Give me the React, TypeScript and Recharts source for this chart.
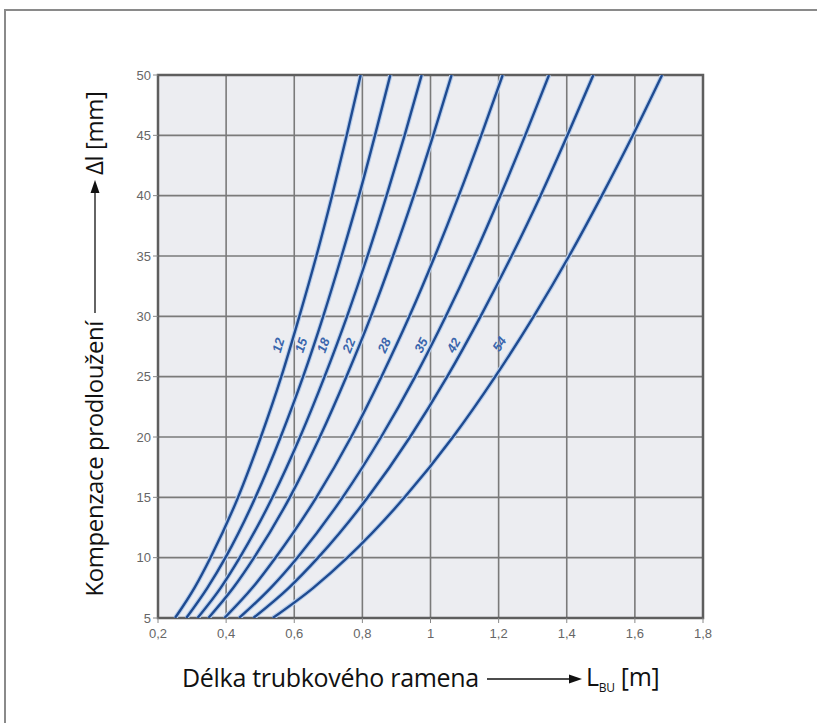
import React from 'react';
import { LineChart, Line, XAxis, YAxis, CartesianGrid, ReferenceArea, ReferenceDot } from 'recharts';

// Δl levels [mm] at which the curve positions L_BU [m] were read
const yLevels = [5, 7.5, 10, 15, 20, 25, 30, 35, 40, 45, 50];

const xTicks = [0.2, 0.4, 0.6, 0.8, 1.0, 1.2, 1.4, 1.6, 1.8];
const yTicks = [5, 10, 15, 20, 25, 30, 35, 40, 45, 50];

const diameters = ['12', '15', '18', '22', '28', '35', '42', '54'];

const x12 = [0.250, 0.307, 0.354, 0.435, 0.502, 0.562, 0.615, 0.665, 0.711, 0.754, 0.795];
const x15 = [0.283, 0.345, 0.398, 0.486, 0.560, 0.626, 0.685, 0.739, 0.790, 0.837, 0.882];
const x18 = [0.316, 0.384, 0.440, 0.536, 0.617, 0.689, 0.755, 0.815, 0.871, 0.924, 0.974];
const x22 = [0.348, 0.421, 0.482, 0.587, 0.675, 0.753, 0.825, 0.890, 0.951, 1.008, 1.062];
const x28 = [0.395, 0.477, 0.545, 0.665, 0.767, 0.856, 0.938, 1.013, 1.083, 1.149, 1.212];
const x35 = [0.438, 0.531, 0.609, 0.742, 0.855, 0.955, 1.045, 1.128, 1.205, 1.278, 1.348];
const x42 = [0.480, 0.584, 0.670, 0.816, 0.940, 1.049, 1.147, 1.238, 1.323, 1.402, 1.478];
const x54 = [0.537, 0.656, 0.756, 0.924, 1.066, 1.190, 1.303, 1.407, 1.503, 1.594, 1.680];

// curve labels (diameter) positions
const labelX = [0.553, 0.620, 0.685, 0.760, 0.864, 0.972, 1.068, 1.202];
const labelY = [27.6, 27.6, 27.6, 27.6, 27.6, 27.6, 27.6, 27.7];
const labelAngle = [-73, -71, -70, -68, -65, -63, -61, -57];

const curves = [x12, x15, x18, x22, x28, x35, x42, x54].map((xs) =>
  xs.map((x, i) => ({ x, y: yLevels[i] }))
);

const fmt = (v: number) => String(v).replace('.', ',');

const titleFont = '"Open Sans", "Noto Sans", sans-serif';
const tickStyle = { fill: '#666', fontSize: 13, fontFamily: '"Liberation Sans", Arial, sans-serif' };

export default function App() {
  return (
    <div style={{ position: 'fixed', left: 0, top: 0, width: 817, height: 723, background: '#fff', overflow: 'hidden' }}>
      <div
        style={{
          position: 'absolute',
          left: 4,
          top: 9,
          width: 900,
          height: 800,
          borderTop: '2px solid #8a8a8a',
          borderLeft: '2px solid #8a8a8a',
        }}
      />
      <div style={{ position: 'absolute', left: 0, top: 0 }}>
        <LineChart width={817} height={723} margin={{ top: 75, right: 114, bottom: 75, left: 118 }}>
          <CartesianGrid fill="#ecedf1" stroke="#7a7a7a" strokeWidth={1.6} />
          <XAxis
            type="number"
            dataKey="x"
            domain={[0.2, 1.8]}
            ticks={xTicks}
            tickFormatter={fmt}
            tick={tickStyle}
            tickLine={{ stroke: '#888' }}
            tickSize={5}
            tickMargin={6}
            axisLine={false}
            height={30}
            allowDataOverflow
          />
          <YAxis
            type="number"
            dataKey="y"
            domain={[5, 50]}
            ticks={yTicks}
            tick={tickStyle}
            tickLine={{ stroke: '#888' }}
            tickSize={5}
            axisLine={false}
            width={40}
            allowDataOverflow
          />
          {curves.map((d, i) => (
            <Line
              key={'h' + i}
              data={d}
              dataKey="y"
              type="monotone"
              stroke="#b7cdeb"
              strokeWidth={4.6}
              dot={false}
              activeDot={false}
              isAnimationActive={false}
            />
          ))}
          {curves.map((d, i) => (
            <Line
              key={'c' + i}
              data={d}
              dataKey="y"
              type="monotone"
              stroke="#1f4b91"
              strokeWidth={2.4}
              dot={false}
              activeDot={false}
              isAnimationActive={false}
            />
          ))}
          <ReferenceArea x1={0.2} x2={1.8} y1={5} y2={50} fill="none" stroke="#5e5e5e" strokeWidth={2.5} />
          {diameters.map((d, i) => (
            <ReferenceDot
              key={'l' + i}
              x={labelX[i]}
              y={labelY[i]}
              r={0}
              shape={(p: any) => (
                <text
                  x={p.cx}
                  y={p.cy}
                  transform={`rotate(${labelAngle[i]}, ${p.cx}, ${p.cy})`}
                  textAnchor="middle"
                  dominantBaseline="central"
                  fontFamily='"Liberation Sans", Arial, sans-serif'
                  fontSize={13}
                  fontStyle="italic"
                  fontWeight="bold"
                  fill="#3a66ad"
                >
                  {d}
                </text>
              )}
            />
          ))}
        </LineChart>
      </div>

      {/* x-axis title */}
      <div
        style={{
          position: 'absolute',
          left: 182,
          top: 660,
          height: 34,
          display: 'flex',
          alignItems: 'center',
          whiteSpace: 'nowrap',
          fontFamily: titleFont,
          fontSize: 25,
          color: '#111',
          letterSpacing: -0.3,
        }}
      >
        <span>Délka trubkového ramena</span>
        <svg width={96} height={14} style={{ margin: '3px 3px 0 8px' }}>
          <line x1={0} y1={7} x2={84} y2={7} stroke="#111" strokeWidth={1.3} />
          <polygon points="82,2.5 95,7 82,11.5" fill="#111" />
        </svg>
        <span>
          L<sub style={{ fontSize: 12 }}>BU</sub> [m]
        </span>
      </div>

      {/* y-axis title */}
      <div
        style={{
          position: 'absolute',
          left: 93 - 260,
          top: 344 - 17,
          width: 520,
          height: 34,
          transform: 'rotate(-90deg)',
          transformOrigin: '50% 50%',
          display: 'flex',
          alignItems: 'center',
          justifyContent: 'center',
          whiteSpace: 'nowrap',
          fontFamily: titleFont,
          fontSize: 24,
          color: '#111',
          letterSpacing: -0.4,
        }}
      >
        <span>Kompenzace prodloužení</span>
        <svg width={134} height={14} style={{ margin: '3px 4px 0 8px' }}>
          <line x1={0} y1={7} x2={122} y2={7} stroke="#111" strokeWidth={1.3} />
          <polygon points="120,2.5 133,7 120,11.5" fill="#111" />
        </svg>
        <span>Δl [mm]</span>
      </div>
    </div>
  );
}
